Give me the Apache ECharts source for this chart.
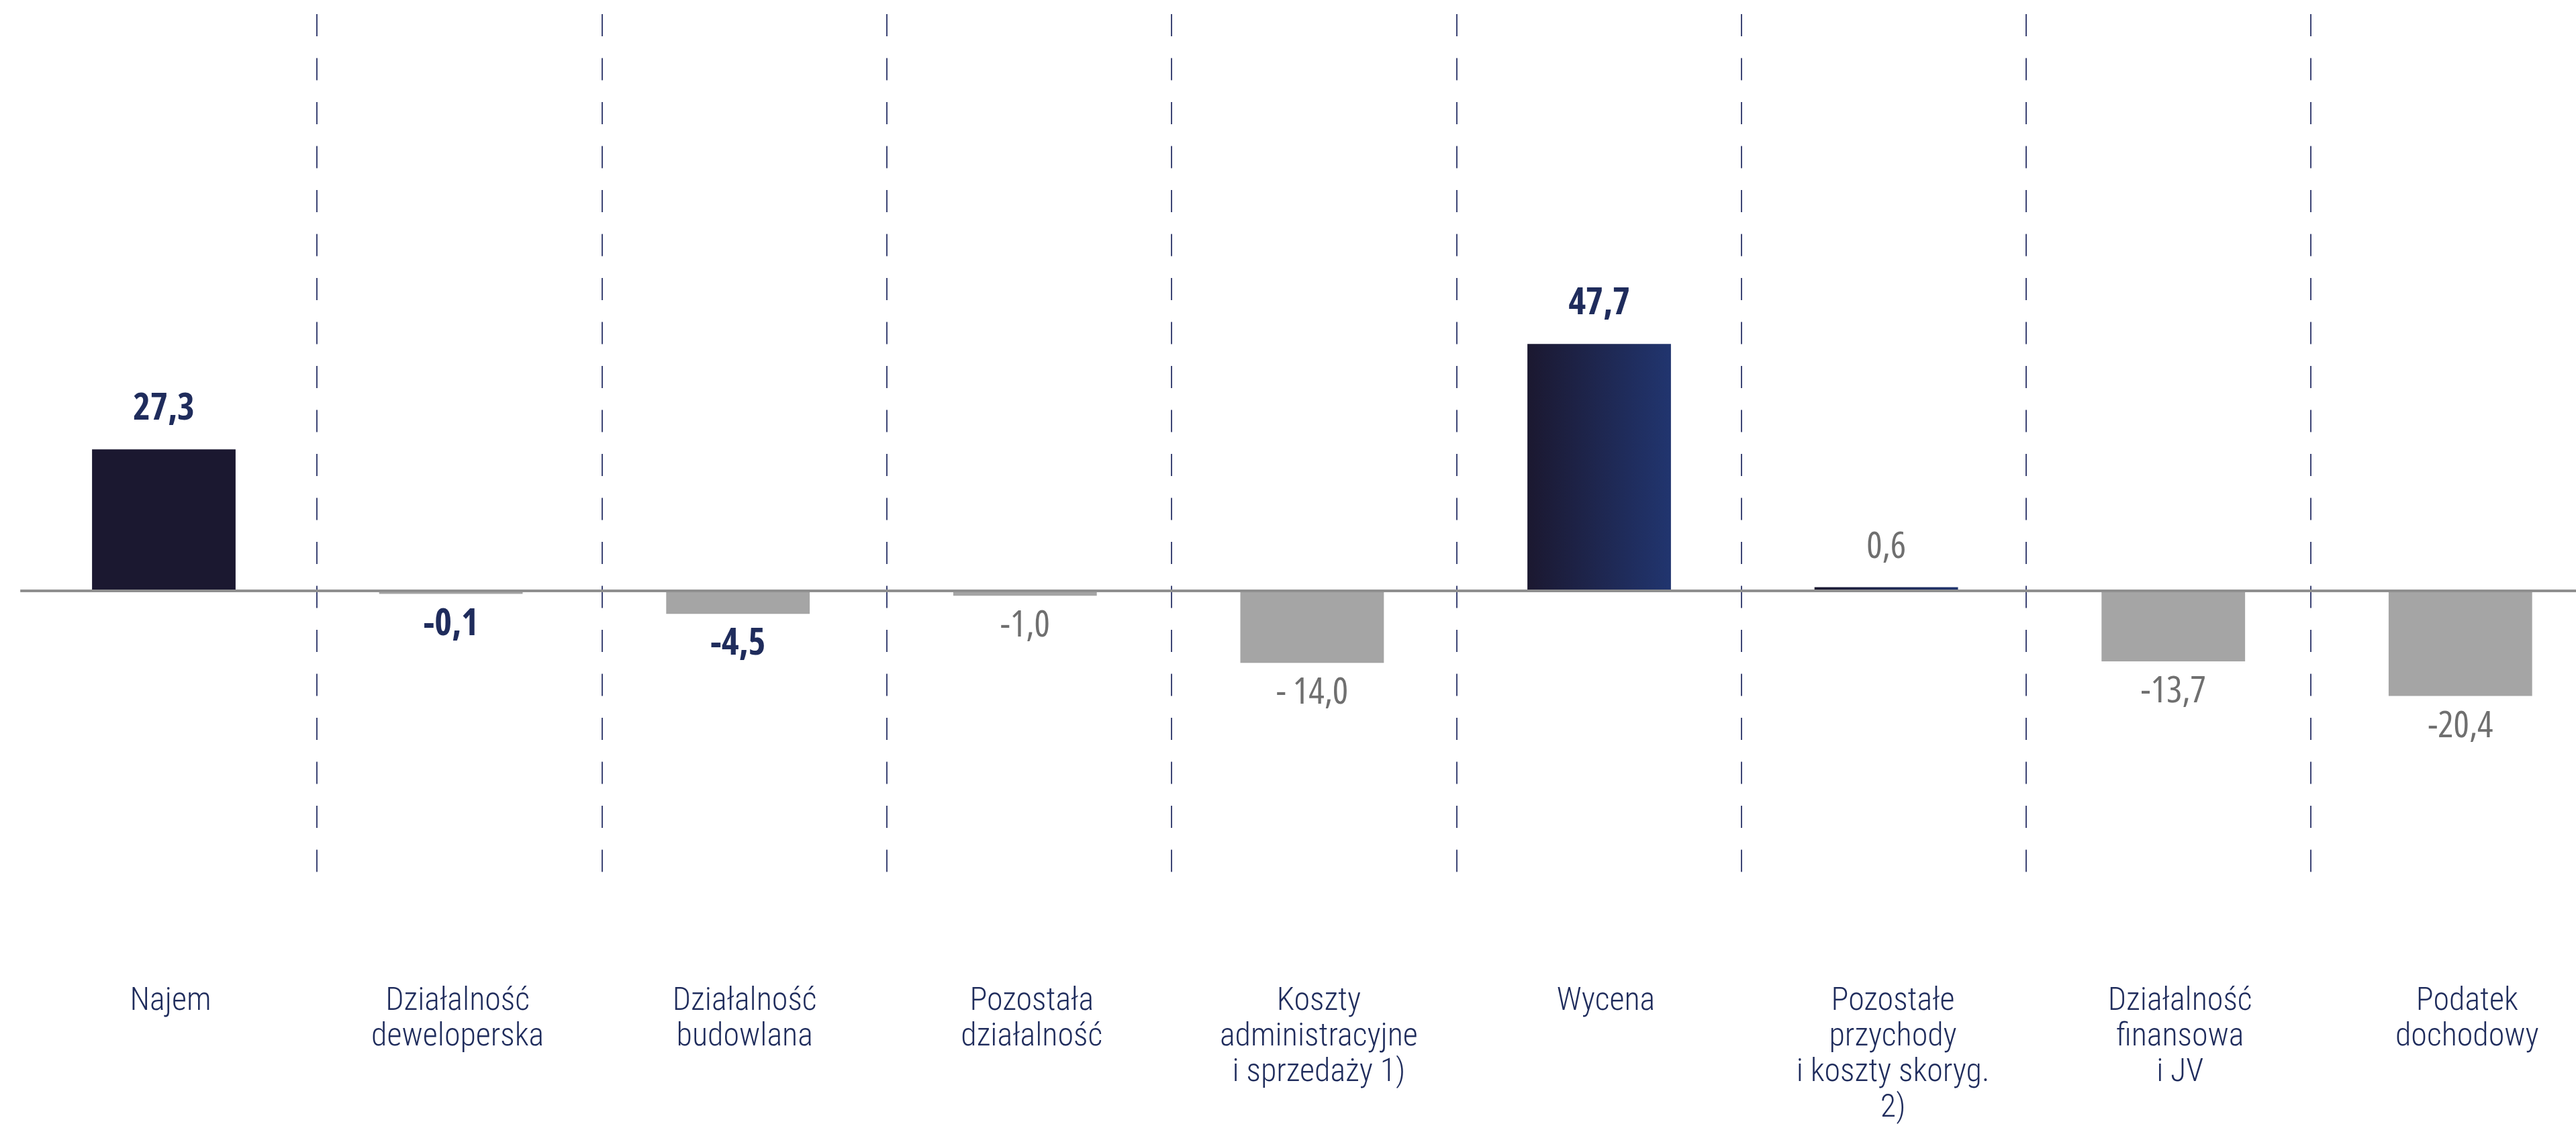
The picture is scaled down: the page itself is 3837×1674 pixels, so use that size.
<!DOCTYPE html>
<html lang="pl">
<head>
<meta charset="utf-8">
<title>Wynik – struktura</title>
<script src="https://cdn.jsdelivr.net/npm/echarts@6/dist/echarts.min.js"></script>
<style>
  html, body { margin: 0; padding: 0; background: #ffffff; }
  #chart { width: 3837px; height: 1674px; }
</style>
</head>
<body>
<div id="chart"></div>
<script>
// Segment contributions (mln PLN)
const categories = [
  'Najem',
  'Działalność\ndeweloperska',
  'Działalność\nbudowlana',
  'Pozostała\ndziałalność',
  'Koszty\nadministracyjne\ni sprzedaży 1)',
  'Wycena',
  'Pozostałe\nprzychody\ni koszty skoryg.\n2)',
  'Działalność\nfinansowa\ni JV',
  'Podatek\ndochodowy'
];
const values = [27.3, -0.1, -4.5, -1.0, -14.0, 47.7, 0.6, -13.7, -20.4];
const valueLabels = ['27,3', '-0,1', '-4,5', '-1,0', '- 14,0', '47,7', '0,6', '-13,7', '-20,4'];
// labels printed in bold navy (others in light grey)
const boldLabelIdx = [0, 1, 2, 5];
// bars filled with the navy gradient (others: solid navy if positive, grey if negative)
const gradientBarIdx = [5, 6];

// condensed faces are picked through font-stretch in the canvas font string
const VALUE_FONT = "'Open Sans', 'Roboto Condensed', sans-serif";
const CAT_FONT = "'Roboto Condensed', 'Roboto', sans-serif";
const NAVY = '#1f2c5c';
const GREY_TEXT = '#6f6f6f';
const GREY_BAR = '#a5a5a5';
const DARK_BAR = '#1b1830';

function navyGradient() {
  return new echarts.graphic.LinearGradient(0, 0, 1, 0, [
    { offset: 0, color: '#1b1830' },
    { offset: 1, color: '#21356f' }
  ]);
}

const barData = values.map(function (v, i) {
  const bold = boldLabelIdx.indexOf(i) >= 0;
  let fill;
  if (v < 0) fill = GREY_BAR;
  else if (gradientBarIdx.indexOf(i) >= 0) fill = navyGradient();
  else fill = DARK_BAR;
  return {
    value: v,
    itemStyle: { color: fill },
    label: {
      show: true,
      position: v >= 0 ? 'top' : 'bottom',
      distance: v >= 0 ? 32 : 18,
      formatter: valueLabels[i],
      fontFamily: VALUE_FONT,
      fontStyle: 'condensed',
      fontSize: 55,
      fontWeight: bold ? 'bold' : 'normal',
      color: bold ? NAVY : GREY_TEXT
    }
  };
});

const chart = echarts.init(document.getElementById('chart'), null, { renderer: 'canvas' });

chart.setOption({
  animation: false,
  backgroundColor: '#ffffff',
  grid: [
    // bars and category labels
    { left: 30.2, width: 3848.4, top: 109.5, bottom: 217, containLabel: false, outerBoundsMode: 'none' },
    // dashed column separators
    { left: 472, width: 2970.2, top: 21, bottom: 375.5, containLabel: false, outerBoundsMode: 'none' }
  ],
  xAxis: [
    {
      type: 'category',
      gridIndex: 0,
      data: categories,
      boundaryGap: true,
      axisLine: { show: false },
      axisTick: { show: false },
      splitLine: { show: false },
      axisLabel: {
        interval: 0,
        margin: 8,
        fontFamily: CAT_FONT,
        fontStyle: 'condensed',
        fontWeight: 300,
        fontSize: 48,
        lineHeight: 53,
        color: NAVY,
        align: 'center',
        verticalAlign: 'top',
        padding: [0, 0, 0, 20]
      }
    },
    {
      type: 'value',
      gridIndex: 1,
      min: 0,
      max: 7,
      interval: 1,
      axisLine: { show: false },
      axisTick: { show: false },
      axisLabel: { show: false },
      splitLine: {
        show: true,
        lineStyle: { color: '#3d4575', width: 2, type: [33, 32.5] }
      }
    }
  ],
  yAxis: [
    { type: 'value', gridIndex: 0, min: -75, max: 100, interval: 25, show: false },
    { type: 'value', gridIndex: 1, min: 0, max: 1, interval: 1, show: false }
  ],
  series: [
    {
      type: 'bar',
      xAxisIndex: 0,
      yAxisIndex: 0,
      data: barData,
      barWidth: '50%',
      barMinHeight: 5,
      markLine: {
        silent: true,
        symbol: 'none',
        label: { show: false },
        lineStyle: { color: '#8f8f8f', width: 4, type: 'solid' },
        data: [{ yAxis: 0 }],
        z: 5
      }
    },
    { type: 'line', xAxisIndex: 1, yAxisIndex: 1, data: [], silent: true }
  ]
});
</script>
</body>
</html>
